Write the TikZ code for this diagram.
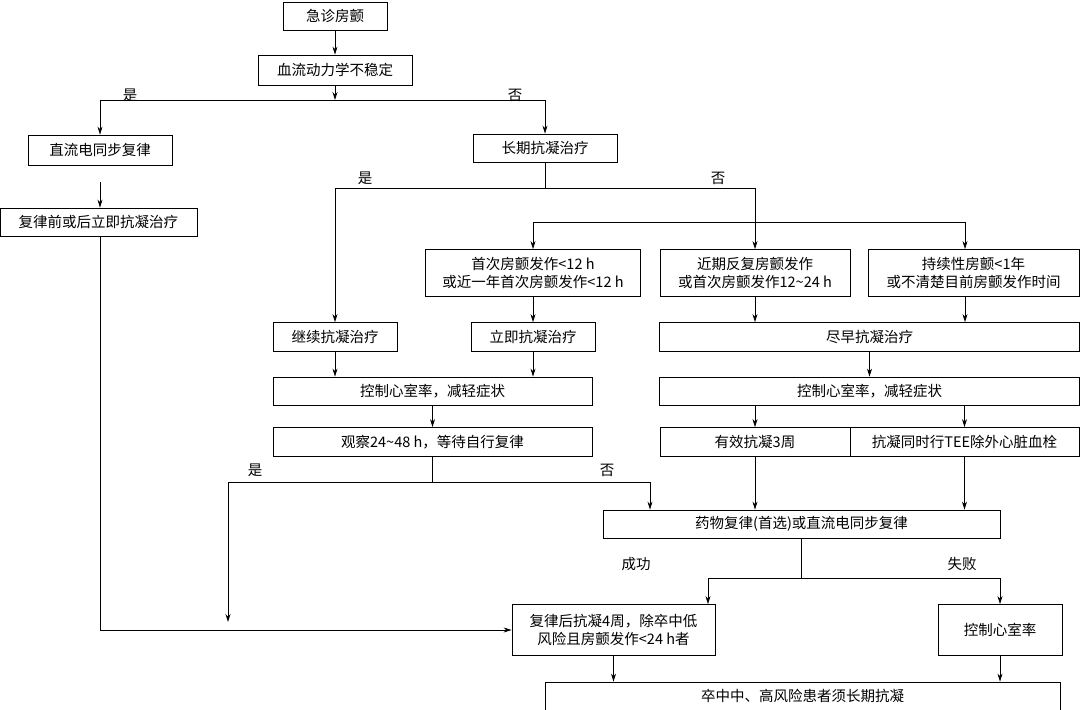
\documentclass[tikz,border=0pt]{standalone}
\usepackage{fontspec}
\setmainfont{Noto Sans CJK SC}
\usetikzlibrary{arrows.meta}
\begin{document}
\begin{tikzpicture}[x=1pt,y=-1pt,
  box/.style={draw,line width=0.8pt,inner sep=0pt,align=center,font=\fontsize{14.5}{18}\selectfont},
  ln/.style={line width=0.8pt},
  ar/.style={line width=0.8pt,-{Stealth[length=8pt,width=5pt]}},
  lab/.style={font=\fontsize{14.5}{18}\selectfont}]
\useasboundingbox (0,0) rectangle (1080,710);
\node[box,minimum width=104,minimum height=28] (n1) at (335,16) {急诊房颤};
\node[box,minimum width=154,minimum height=30] (n2) at (335,70) {血流动力学不稳定};
\node[box,minimum width=144,minimum height=30] (n3) at (100,150) {直流电同步复律};
\node[box,minimum width=144,minimum height=28] (n4) at (545,148) {长期抗凝治疗};
\node[box,minimum width=197,minimum height=28] (n5) at (98.5,222) {复律前或后立即抗凝治疗};
\node[box,minimum width=215,minimum height=47] (n7) at (533,273) {首次房颤发作<12 h\\或近一年首次房颤发作<12 h};
\node[box,minimum width=190,minimum height=47] (n8) at (755,273) {近期反复房颤发作\\或首次房颤发作12\textasciitilde24 h};
\node[box,minimum width=211,minimum height=47] (n9) at (973.5,273) {持续性房颤<1年\\或不清楚目前房颤发作时间};
\node[box,minimum width=124,minimum height=29] (n10) at (335,337) {继续抗凝治疗};
\node[box,minimum width=124,minimum height=29] (n11) at (533,337) {立即抗凝治疗};
\node[box,minimum width=420,minimum height=29] (n12) at (869.5,337) {尽早抗凝治疗};
\node[box,minimum width=319,minimum height=28] (n13) at (432.5,391) {控制心室率，减轻症状};
\node[box,minimum width=420,minimum height=28] (n14) at (869.5,391) {控制心室率，减轻症状};
\node[box,minimum width=319,minimum height=29] (n15) at (432.5,442) {观察24\textasciitilde48 h，等待自行复律};
\node[box,minimum width=190,minimum height=29] (n16) at (755,442) {有效抗凝3周};
\node[box,minimum width=229,minimum height=29] (n17) at (964.5,442) {抗凝同时行TEE除外心脏血栓};
\node[box,minimum width=397,minimum height=28] (n18) at (801.5,524) {药物复律(首选)或直流电同步复律};
\node[box,minimum width=203,minimum height=51] (n19) at (613.5,630) {复律后抗凝4周，除卒中低\\风险且房颤发作<24 h者};
\node[box,minimum width=124,minimum height=51] (n20) at (1000,630) {控制心室率};
\node[box,minimum width=515,minimum height=28] (n21) at (802.5,696) {卒中中、高风险患者须长期抗凝};
% labels
\node[lab] (l1) at (130,95) {是};
\node[lab] (l2) at (515,95) {否};
\node[lab] (l3) at (365,178) {是};
\node[lab] (l4) at (718,178) {否};
\node[lab] (l5) at (255,470) {是};
\node[lab] (l6) at (607,470) {否};
\node[lab] (l7) at (636,564) {成功};
\node[lab] (l8) at (962,564) {失败};
% junctions
\coordinate (j1) at (335,100); \coordinate (j1l) at (100,100); \coordinate (j1r) at (545,100);
\coordinate (g1) at (100,182);
\coordinate (j2) at (545,188); \coordinate (j2l) at (335,188); \coordinate (j2r) at (755,188);
\coordinate (j3) at (755,222); \coordinate (j3l) at (533,222); \coordinate (j3r) at (965,222);
\coordinate (j4) at (432.5,482); \coordinate (j4l) at (228,482); \coordinate (j4r) at (650,482);
\coordinate (m1) at (228,622);
\coordinate (j5) at (801.5,578); \coordinate (j5l) at (708,578); \coordinate (j5r) at (1000,578);
% connectors
\draw[ar] (n1) -- (n2);
\draw[ar] (n2) -- (j1);
\draw[ln] (j1l) -- (j1r);
\draw[ar] (j1l) -- (n3.north -| j1l);
\draw[ar] (j1r) -- (n4.north -| j1r);
\draw[ar] (g1) -- (n5.north -| g1);
\draw[ar] (n5.south -| g1) |- (n19.west);
\draw[ln] (n4.south -| j2) -- (j2);
\draw[ln] (j2l) -- (j2r);
\draw[ar] (j2l) -- (n10.north);
\draw[ln] (j2r) -- (j3);
\draw[ln] (j3l) -- (j3r);
\draw[ar] (j3l) -- (n7.north -| j3l);
\draw[ar] (j3) -- (n8.north);
\draw[ar] (j3r) -- (n9.north -| j3r);
\draw[ar] (n7.south -| j3l) -- (n11.north -| j3l);
\draw[ar] (n8.south) -- (n12.north -| n8.south);
\draw[ar] (n9.south -| j3r) -- (n12.north -| j3r);
\draw[ar] (n10.south) -- (n13.north -| n10.south);
\draw[ar] (n11.south) -- (n13.north -| n11.south);
\draw[ar] (n12.south) -- (n14.north);
\draw[ar] (n13.south) -- (n15.north);
\draw[ar] (n14.south -| n16.north) -- (n16.north);
\draw[ar] (n14.south -| n17.north) -- (n17.north);
\draw[ln] (n15.south) -- (j4);
\draw[ln] (j4l) -- (j4r);
\draw[ar] (j4l) -- (m1);
\draw[ar] (j4r) -- (n18.north -| j4r);
\draw[ar] (n16.south) -- (n18.north -| n16.south);
\draw[ar] (n17.south) -- (n18.north -| n17.south);
\draw[ln] (n18.south -| j5) -- (j5);
\draw[ln] (j5l) -- (j5r);
\draw[ar] (j5l) -- (n19.north -| j5l);
\draw[ar] (j5r) -- (n20.north);
\draw[ar] (n19.south) -- (n21.north -| n19.south);
\draw[ar] (n20.south) -- (n21.north -| n20.south);
\end{tikzpicture}
\end{document}
